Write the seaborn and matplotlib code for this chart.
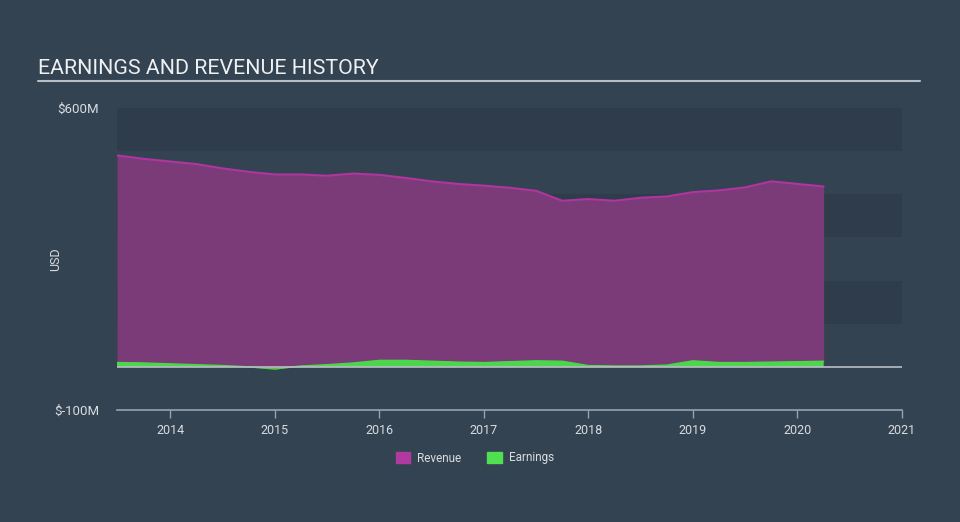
import matplotlib
matplotlib.use("Agg")
import matplotlib.pyplot as plt
import seaborn as sns
import numpy as np
import pandas as pd

# ---- data (USD millions) ----
dates = [2013.49, 2013.75, 2014.0, 2014.25, 2014.5, 2014.75, 2015.0, 2015.25,
         2015.5, 2015.75, 2016.0, 2016.25, 2016.5, 2016.75, 2017.0, 2017.25,
         2017.5, 2017.75, 2018.0, 2018.25, 2018.5, 2018.75, 2019.0, 2019.25,
         2019.5, 2019.75, 2020.0, 2020.25]
revenue = [490, 482, 476, 470, 460, 452, 446, 446,
           443, 448, 445, 438, 430, 424, 420, 415,
           408, 385, 389, 385, 392, 395, 405, 409,
           416, 430, 424, 418]
earnings = [10, 9, 7, 5, 3, 0, -5, 2,
            5, 9, 15, 15, 13, 11, 10, 12,
            14, 13, 3, 2, 2, 4, 14, 10,
            10, 11, 12, 13]
year_ticks = [2014, 2015, 2016, 2017, 2018, 2019, 2020, 2021]
y_ticks = [600, -100]
y_labels = ["$600M", "$-100M"]

df = pd.DataFrame({"date": dates, "Revenue": revenue, "Earnings": earnings})

BG = "#344352"
BAND = "#2e3c4b"
REV_FILL = "#7b3a78"
REV_LINE = "#b0359f"
EARN = "#4cd64c"
NEG = "#e0474c"
TXT = "#d8dce0"

sns.set_theme(style="dark")
plt.rcParams["font.family"] = ["Roboto", "DejaVu Sans"]

fig = plt.figure(figsize=(9.6, 5.22), dpi=100, facecolor=BG)
ax = fig.add_axes([117/960, 1-410/522, (902-117)/960, (410-108)/522])
ax.set_facecolor(BG)

xmin, xmax = 2013.49, 2021.0
ax.set_xlim(xmin, xmax)
ax.set_ylim(-100, 600)

# bands
for lo in (500, 300, 100):
    ax.axhspan(lo, lo + 100, color=BAND, zorder=0, lw=0)

ax.fill_between(df["date"], 0, df["Revenue"], color=REV_FILL, lw=0, zorder=2)
sns.lineplot(data=df, x="date", y="Revenue", ax=ax, color=REV_LINE, lw=1.5, zorder=3)
e = np.array(earnings, dtype=float)
ax.fill_between(df["date"], 0, e, where=e >= 0, interpolate=True, color=EARN, lw=0, zorder=4)
ax.fill_between(df["date"], 0, e, where=e < 0, interpolate=True, color=NEG, lw=0, zorder=4)
sns.lineplot(data=df, x="date", y="Earnings", ax=ax, color=EARN, lw=1, zorder=4)

ax.axhline(0, color="#b8bec6", lw=1.2, zorder=5)

for s in ("top", "right", "left"):
    ax.spines[s].set_visible(False)
ax.spines["bottom"].set_color("#9aa3ad")
ax.spines["bottom"].set_linewidth(1.2)

ax.set_xticks(year_ticks)
ax.set_xticklabels([str(y) for y in year_ticks], color=TXT, fontsize=9)
ax.tick_params(axis="x", direction="out", length=6, color="#9aa3ad", width=1, pad=4, bottom=True)
ax.set_yticks(y_ticks)
ax.set_yticklabels(y_labels, color=TXT, fontsize=9.5)
ax.tick_params(axis="y", length=0, pad=13)
ax.set_xlabel("")
ax.set_ylabel("USD", color=TXT, fontsize=9)
ax.yaxis.set_label_coords((62-117)/785, 0.5)
ax.grid(False)

# title
fig.text(38/960, 1-68/522, "EARNINGS AND REVENUE HISTORY", color="#eef0f2",
         fontsize=15.4, va="center", ha="left")
fig.add_artist(plt.Line2D([38/960, 920/960], [1-81/522, 1-81/522],
                          color="#b8bec6", lw=1.5))

# legend
from matplotlib.patches import Patch
handles = [Patch(color="#b03aa0", label="Revenue"), Patch(color="#50e050", label="Earnings")]
fig.legend(handles=handles, loc="center", bbox_to_anchor=(475/960, 1-458/522), ncol=2,
           frameon=False, fontsize=8.5, labelcolor=TXT, handlelength=1.2, handleheight=1.0,
           columnspacing=2.2, handletextpad=0.6)

fig.savefig("out.png", dpi=100, facecolor=BG)
